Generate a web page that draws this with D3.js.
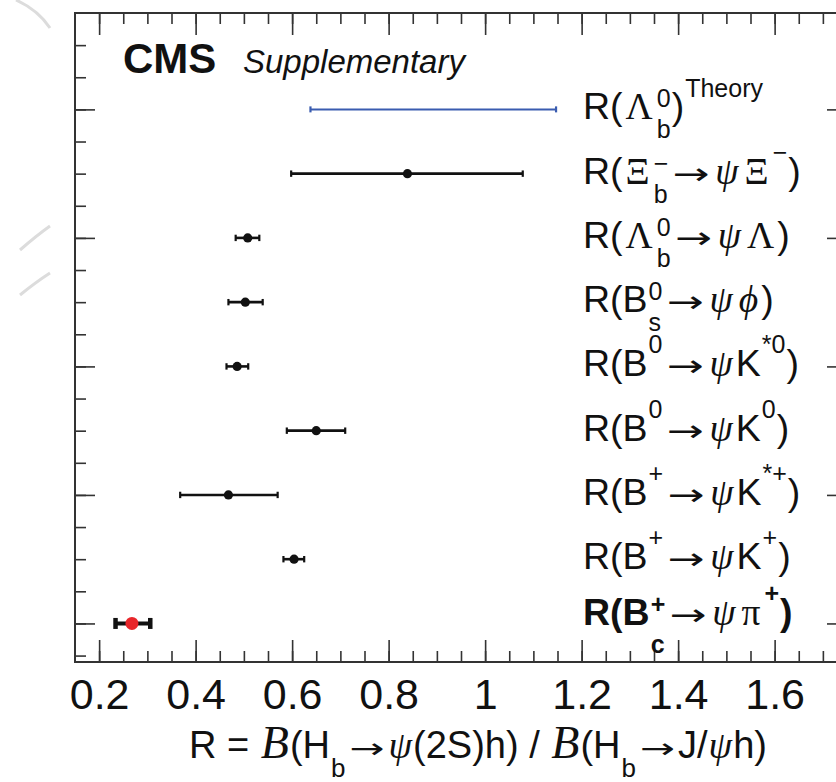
<!DOCTYPE html>
<html>
<head>
<meta charset="utf-8">
<script src="https://cdn.jsdelivr.net/npm/d3@7"></script>
<style>
  body { margin: 0; background: #fff; }
  svg { display: block; }
  text { white-space: pre; }
</style>
</head>
<body>
<div id="chart"></div>
<script>
// helpers for the ROOT-style label pieces
function s(t) { return { t: t }; }              // sans, upright
function g(t) { return { t: t, serif: true }; } // greek, upright serif
function gi(t) { return { t: t, serif: true, italic: true }; }
function arrow() { return { t: "→", arrow: true }; }

// categories, top to bottom
var labels = [
  [s("R("), g("Λ"), { sup: "0", sub: "b" }, s(")"), { sup: "Theory", dy: -22 }],
  [s("R("), g("Ξ"), { sup: "−", sub: "b" }, arrow(), gi("ψ"), g("Ξ"), { sup: "−" }, s(")")],
  [s("R("), g("Λ"), { sup: "0", sub: "b" }, arrow(), gi("ψ"), g("Λ"), s(")")],
  [s("R(B"), { sup: "0", sub: "s" }, arrow(), gi("ψ"), gi("ϕ"), s(")")],
  [s("R(B"), { sup: "0" }, arrow(), gi("ψ"), s("K"), { sup: "*0" }, s(")")],
  [s("R(B"), { sup: "0" }, arrow(), gi("ψ"), s("K"), { sup: "0" }, s(")")],
  [s("R(B"), { sup: "+" }, arrow(), gi("ψ"), s("K"), { sup: "*+" }, s(")")],
  [s("R(B"), { sup: "+" }, arrow(), gi("ψ"), s("K"), { sup: "+" }, s(")")],
  [s("R(B"), { sup: "+", sub: "c", subDy: 28 }, arrow(), gi("ψ"), g("π"), { sup: "+" }, s(")")]
];

// measured ratio and its interval (theory has no central value)
var values = [null, 0.839, 0.508, 0.503, 0.486, 0.650, 0.468, 0.604, 0.268];
var lows   = [0.638, 0.598, 0.483, 0.468, 0.464, 0.589, 0.368, 0.582, 0.234];
var highs  = [1.147, 1.078, 0.532, 0.539, 0.509, 0.710, 0.570, 0.625, 0.306];

var xTicks = [0.2, 0.4, 0.6, 0.8, 1.0, 1.2, 1.4, 1.6];
var xMinor = d3.range(4, 35).map(function(d) { return d * 0.05; });
var yMajor = [1, 3, 5, 7, 9];
var yMinor = d3.range(1, 21).map(function(d) { return d * 0.5; });

var SANS = "'Liberation Sans', Arial, Helvetica, sans-serif";
var SERIF = "'Liberation Serif', 'Times New Roman', serif";

var svgWidth = 836, svgHeight = 782;
var frameL = 75, frameT = 13, frameR = 847, frameB = 662;

var svg = d3.select("#chart").append("svg")
  .attr("width", svgWidth)
  .attr("height", svgHeight);

svg.append("rect").attr("width", svgWidth).attr("height", svgHeight).attr("fill", "#fff");

// faint background strokes at the left edge
var bg = svg.append("g").attr("fill", "none").attr("stroke", "#dcdcdc").attr("stroke-width", 3);
bg.append("path").attr("d", "M16,0 Q38,10 50,28");
bg.append("path").attr("d", "M20,250 Q36,236 50,226");
bg.append("path").attr("d", "M20,295 Q36,282 50,273");

var xScale = d3.scaleLinear().domain([0.15, 1.75]).range([frameL, frameR]);
var yScale = d3.scaleLinear().domain([0.4, 10.5]).range([frameB, frameT]);

function rowY(i) { return yScale(labels.length - i); }

// ---------------- axes ----------------
function styleAxis(sel) {
  sel.select(".domain").remove();
  sel.selectAll("line").attr("stroke", "#333").attr("stroke-width", 1.6);
}

// bottom
svg.append("g").attr("transform", "translate(0," + frameB + ")")
  .call(d3.axisBottom(xScale).tickValues(xMinor).tickSize(-11).tickFormat(""))
  .call(styleAxis);
var xAxisG = svg.append("g").attr("transform", "translate(0," + frameB + ")")
  .call(d3.axisBottom(xScale).tickValues(xTicks).tickSize(-22).tickPadding(16).tickFormat(d3.format("~g")))
  .call(styleAxis);
xAxisG.attr("font-size", null).attr("font-family", null);
xAxisG.selectAll("text")
  .attr("font-family", SANS)
  .attr("font-size", 43)
  .attr("fill", "#111");

// top
svg.append("g").attr("transform", "translate(0," + frameT + ")")
  .call(d3.axisTop(xScale).tickValues(xMinor).tickSize(-11).tickFormat(""))
  .call(styleAxis);
svg.append("g").attr("transform", "translate(0," + frameT + ")")
  .call(d3.axisTop(xScale).tickValues(xTicks).tickSize(-22).tickFormat(""))
  .call(styleAxis);

// left
svg.append("g").attr("transform", "translate(" + frameL + ",0)")
  .call(d3.axisLeft(yScale).tickValues(yMinor).tickSize(-11).tickFormat(""))
  .call(styleAxis);
svg.append("g").attr("transform", "translate(" + frameL + ",0)")
  .call(d3.axisLeft(yScale).tickValues(yMajor).tickSize(-20).tickFormat(""))
  .call(styleAxis);

// right
svg.append("g").attr("transform", "translate(" + frameR + ",0)")
  .call(d3.axisRight(yScale).tickValues(yMinor).tickSize(-11).tickFormat(""))
  .call(styleAxis);
svg.append("g").attr("transform", "translate(" + frameR + ",0)")
  .call(d3.axisRight(yScale).tickValues(yMajor).tickSize(-20).tickFormat(""))
  .call(styleAxis);

// frame
svg.append("rect")
  .attr("x", frameL).attr("y", frameT)
  .attr("width", frameR - frameL).attr("height", frameB - frameT)
  .attr("fill", "none").attr("stroke", "#333").attr("stroke-width", 2);

// ---------------- rich text ----------------
function richText(grp, x, y, parts, opt) {
  var cx = x;
  var size = opt.size, small = opt.small, weight = opt.weight || "normal";
  function put(str, px, py, fs, serif, italic, w) {
    var t = grp.append("text")
      .attr("x", px).attr("y", py)
      .attr("font-family", serif ? SERIF : SANS)
      .attr("font-style", italic ? "italic" : "normal")
      .attr("font-weight", w || weight)
      .attr("font-size", fs)
      .attr("fill", "#111")
      .text(str);
    return t;
  }
  parts.forEach(function(p) {
    if (p.sup !== undefined || p.sub !== undefined) {
      var stacked = p.sup !== undefined && p.sub !== undefined;
      var w = 0;
      if (p.sup !== undefined) {
        var supDy = p.dy !== undefined ? p.dy : (stacked ? opt.supStack : opt.sup);
        w = Math.max(w, put(p.sup, cx + 1, y + supDy, small).node().getComputedTextLength());
      }
      if (p.sub !== undefined) {
        w = Math.max(w, put(p.sub, cx + 1, y + (p.subDy || opt.sub), small).node().getComputedTextLength());
      }
      cx += w + 2;
    } else if (p.arrow) {
      // long thin arrow: draw the glyph at the origin and stretch it sideways
      var a = put(p.t, 0, 0, opt.arrowSize, false, false, "normal")
        .attr("font-family", "'DejaVu Sans', sans-serif");
      var aw = a.node().getComputedTextLength() || 1;
      a.attr("transform", "translate(" + (cx + 3) + "," + (y + opt.arrowDy) + ") scale(" + (opt.arrowLen / aw) + ",1)");
      cx += opt.arrowLen + 6;
    } else {
      var pad = p.serif ? opt.pad : 0;
      var fs = p.size || size;
      var w2 = put(p.t, cx + pad, y, fs, p.serif, p.italic, p.serif ? "normal" : weight)
        .node().getComputedTextLength();
      cx += w2 + 2 * pad;
    }
  });
  return cx - x;
}

// ---------------- labels ----------------
var labG = svg.append("g");
labels.forEach(function(parts, i) {
  var isLast = i === labels.length - 1;
  richText(labG.append("g"), 583, rowY(i) + (isLast ? 2 : 10), parts, {
    size: 37.5, small: 25, sup: -23, supStack: -12, sub: 19, pad: 3,
    arrowLen: 37, arrowSize: 30, arrowDy: 0,
    weight: isLast ? "bold" : "normal"
  });
});

// ---------------- error bars & points ----------------
var marks = svg.append("g");
labels.forEach(function(parts, i) {
  var cy = rowY(i);
  var isTheory = values[i] === null;
  var isMain = i === labels.length - 1;
  var col = isTheory ? "#3a5cb0" : "#111";
  var lw = isTheory ? 2 : (isMain ? 4 : 2.6);
  var capH = isTheory ? 3 : (isMain ? 5.5 : 3.2);
  var capW = isMain ? 4.5 : 2.2;
  marks.append("line")
    .attr("x1", xScale(lows[i])).attr("x2", xScale(highs[i]))
    .attr("y1", cy).attr("y2", cy)
    .attr("stroke", col).attr("stroke-width", lw);
  [lows[i], highs[i]].forEach(function(v) {
    marks.append("line")
      .attr("x1", xScale(v)).attr("x2", xScale(v))
      .attr("y1", cy - capH).attr("y2", cy + capH)
      .attr("stroke", col).attr("stroke-width", capW);
  });
  if (!isTheory) {
    marks.append("circle")
      .attr("cx", xScale(values[i])).attr("cy", cy)
      .attr("r", isMain ? 6.5 : 4.6)
      .attr("fill", isMain ? "#e8262a" : "#111");
  }
});

// ---------------- CMS header ----------------
svg.append("text")
  .attr("x", 123).attr("y", 73)
  .attr("font-family", SANS).attr("font-weight", "bold").attr("font-size", 42)
  .attr("fill", "#111")
  .text("CMS");
svg.append("text")
  .attr("x", 243).attr("y", 73)
  .attr("font-family", SANS).attr("font-style", "italic").attr("font-size", 33)
  .attr("fill", "#111")
  .text("Supplementary");

// ---------------- axis title ----------------
var titleParts = [
  s("R = "), { t: "B", serif: true, italic: true, size: 46 }, s("(H"), { sub: "b" },
  arrow(), gi("ψ"), s("(2S)h) / "), { t: "B", serif: true, italic: true, size: 46 },
  s("(H"), { sub: "b" }, arrow(), s("J/"), gi("ψ"), s("h)")
];
var titleG = svg.append("g");
var tw = richText(titleG, 0, 758, titleParts, {
  size: 38, small: 26, sup: -20, supStack: -10, sub: 19, pad: 1,
  arrowLen: 35, arrowSize: 28, arrowDy: 0
});
titleG.attr("transform", "translate(" + (478 - tw / 2) + ",0)");
</script>
</body>
</html>
